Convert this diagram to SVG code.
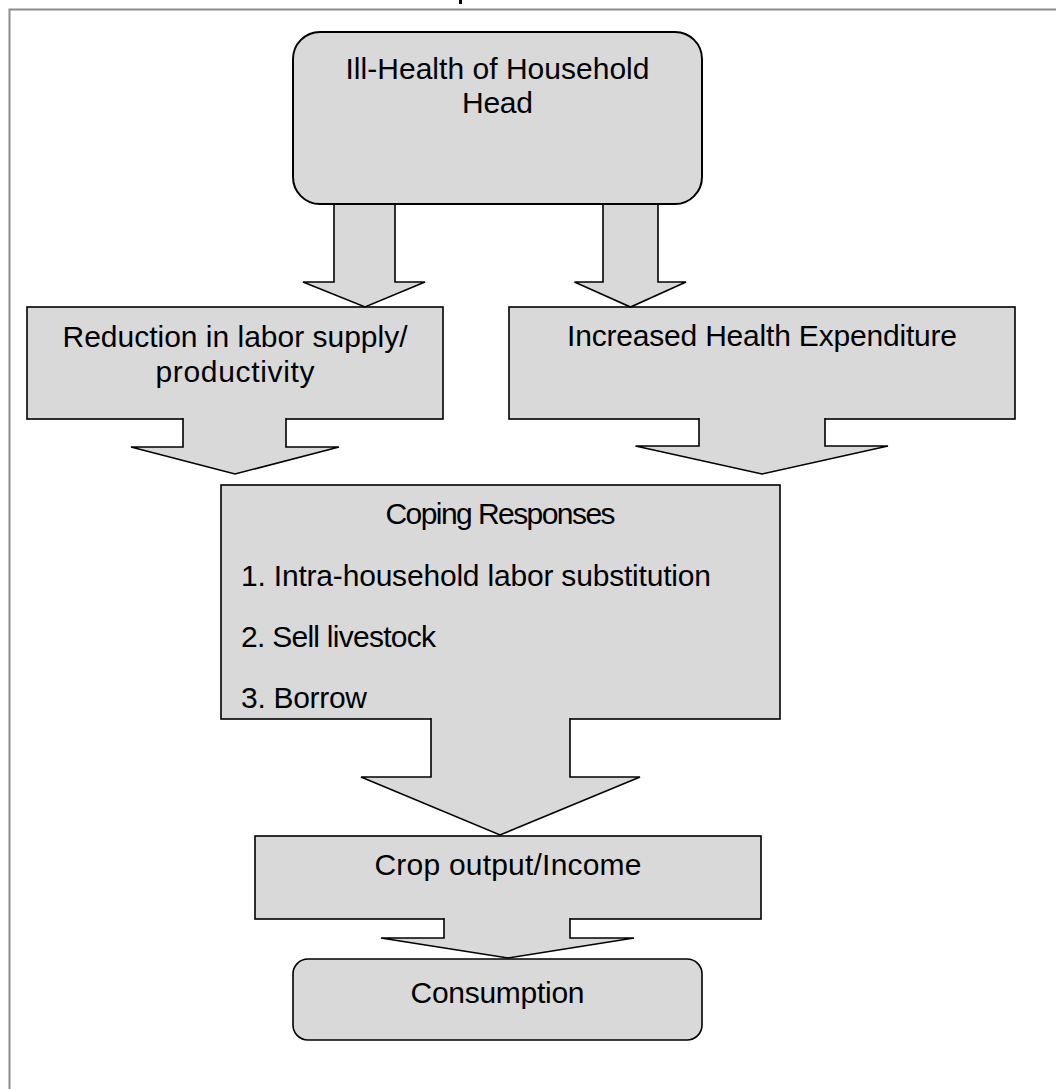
<svg xmlns="http://www.w3.org/2000/svg" width="1056" height="1089" viewBox="0 0 1056 1089">
  <style>
    .box { fill: #d9d9d9; stroke: #000; stroke-width: 1.6; }
    .top { stroke-width: 2; }
    .arrow { fill: #d9d9d9; stroke: #000; stroke-width: 1.6; stroke-linejoin: miter; }
    .t { font-family: "Liberation Sans", Arial, sans-serif; font-size: 30px; fill: #000; }
    .c { text-anchor: middle; }
  </style>
  <rect width="1056" height="1089" fill="#fff"/>
  <g id="frame">
    <rect x="459" y="0" width="3" height="4" fill="#000"/>
    <path d="M9.5,1089 V9.5 H1056" fill="none" stroke="#8c8c8c" stroke-width="2"/>
  </g>
  <g id="node-illhealth">
    <rect class="box top" x="293" y="32" width="409" height="172" rx="27" ry="27"/>
    <text class="t c" x="497.5" y="79" textLength="304" lengthAdjust="spacing">Ill-Health of Household</text>
    <text class="t c" x="497.5" y="113" textLength="71" lengthAdjust="spacing">Head</text>
  </g>
  <g id="node-reduction">
    <rect class="box" x="27" y="307" width="416" height="112"/>
    <text class="t c" x="235" y="347" textLength="345" lengthAdjust="spacing">Reduction in labor supply/</text>
    <text class="t c" x="235" y="382" textLength="159" lengthAdjust="spacing">productivity</text>
  </g>
  <g id="node-expenditure">
    <rect class="box" x="509" y="307" width="506" height="112"/>
    <text class="t c" x="762" y="346" textLength="390" lengthAdjust="spacing">Increased Health Expenditure</text>
  </g>
  <g id="node-coping">
    <rect class="box" x="221" y="485" width="559" height="234"/>
    <text class="t c" x="500.5" y="524" textLength="230" lengthAdjust="spacing">Coping Responses</text>
    <text class="t" x="241" y="586" textLength="470" lengthAdjust="spacing">1. Intra-household labor substitution</text>
    <text class="t" x="241" y="647" textLength="195" lengthAdjust="spacing">2. Sell livestock</text>
    <text class="t" x="241" y="708" textLength="126" lengthAdjust="spacing">3. Borrow</text>
  </g>
  <g id="node-crop">
    <rect class="box" x="255" y="836" width="506" height="83"/>
    <text class="t c" x="508" y="875" textLength="267" lengthAdjust="spacing">Crop output/Income</text>
  </g>
  <g id="node-consumption">
    <rect class="box" x="293" y="959" width="409" height="81" rx="15" ry="15"/>
    <text class="t c" x="497.5" y="1003" textLength="174" lengthAdjust="spacing">Consumption</text>
  </g>
  <g id="connectors">
    <path class="arrow" d="M334,205 V282 H303 L365,307 L425,282 H395 V205"/>
    <path class="arrow" d="M603,205 V282 H574.5 L630.5,307 L686,282 H658 V205"/>
    <path class="arrow" d="M183,418 V447 H131 L235,474 L339,447 H286 V418"/>
    <path class="arrow" d="M699,418 V446 H635.5 L762,474 L888,446 H825 V418"/>
    <path class="arrow" d="M431,718 V777 H361 L500,835 L640,777 H570 V718"/>
    <path class="arrow" d="M444,918 V938 H381 L508,958 L634,938 H570 V918"/>
  </g>
</svg>
